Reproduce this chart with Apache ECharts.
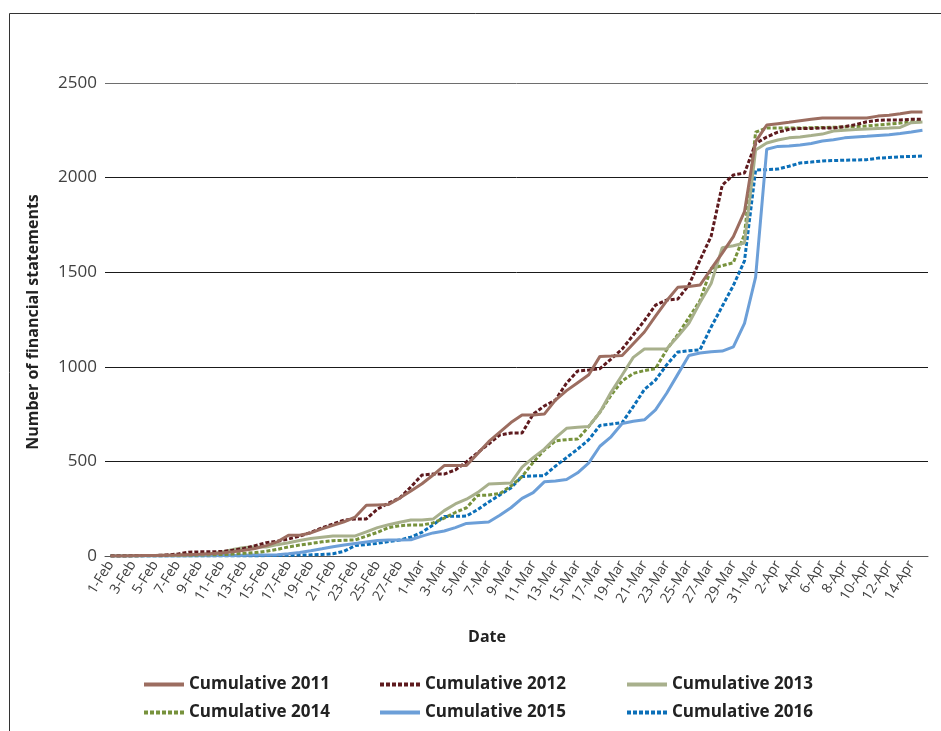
<!DOCTYPE html>
<html>
<head>
<meta charset="utf-8">
<script src="https://cdn.jsdelivr.net/npm/echarts@6/dist/echarts.min.js"></script>
<style>
html,body{margin:0;padding:0;background:#fff;}
#chart{width:941px;height:731px;}
</style>
</head>
<body>
<div id="chart"></div>
<script>
var categories = [
'1-Feb','2-Feb','3-Feb','4-Feb','5-Feb','6-Feb','7-Feb','8-Feb','9-Feb','10-Feb',
'11-Feb','12-Feb','13-Feb','14-Feb','15-Feb','16-Feb','17-Feb','18-Feb','19-Feb','20-Feb',
'21-Feb','22-Feb','23-Feb','24-Feb','25-Feb','26-Feb','27-Feb','28-Feb',
'1-Mar','2-Mar','3-Mar','4-Mar','5-Mar','6-Mar','7-Mar','8-Mar','9-Mar','10-Mar',
'11-Mar','12-Mar','13-Mar','14-Mar','15-Mar','16-Mar','17-Mar','18-Mar','19-Mar','20-Mar',
'21-Mar','22-Mar','23-Mar','24-Mar','25-Mar','26-Mar','27-Mar','28-Mar','29-Mar','30-Mar','31-Mar',
'1-Apr','2-Apr','3-Apr','4-Apr','5-Apr','6-Apr','7-Apr','8-Apr','9-Apr','10-Apr',
'11-Apr','12-Apr','13-Apr','14-Apr','15-Apr'
];
var cum2011 = [
0,0,1,2,3,4,5,7,9,12,
16,22,30,40,55,75,110,110,122,143,
162,181,206,268,270,272,306,343,382,428,
478,478,478,541,604,655,705,745,745,750,
824,874,916,958,1055,1057,1060,1122,1184,1268,
1349,1420,1425,1432,1517,1601,1688,1820,2190,2278,
2285,2292,2300,2308,2315,2315,2315,2315,2315,2325,
2330,2338,2347,2347
];
var cum2012 = [
0,0,1,2,3,5,10,20,22,22,
24,30,40,55,70,78,90,105,125,148,
169,190,196,196,248,280,306,365,428,433,
433,455,497,546,592,640,650,650,750,793,
824,914,978,983,990,1041,1094,1168,1244,1326,
1353,1358,1432,1564,1690,1960,2014,2024,2180,2215,
2240,2255,2260,2260,2262,2262,2270,2280,2295,2303,
2305,2305,2308,2308
];
var cum2013 = [
0,0,1,2,3,4,5,7,9,12,
20,35,45,48,48,60,70,82,92,99,
106,106,106,128,150,165,178,190,190,195,
240,275,300,335,380,383,386,470,520,565,
624,675,680,685,760,865,957,1050,1094,1094,
1094,1160,1230,1340,1440,1630,1640,1654,2146,2183,
2199,2210,2215,2222,2230,2246,2250,2254,2257,2260,
2262,2265,2290,2294
];
var cum2014 = [
0,0,0,1,1,2,3,4,5,6,
8,10,14,18,25,35,48,58,66,75,
81,83,85,105,125,150,160,164,164,175,
200,230,255,320,322,330,370,420,495,560,
608,615,618,685,760,850,925,965,980,990,
1090,1170,1260,1350,1520,1535,1550,1700,2240,2262,
2262,2262,2262,2264,2265,2266,2268,2270,2273,2278,
2283,2288,2294,2296
];
var cum2015 = [
0,0,0,0,0,0,0,0,1,1,
2,3,4,5,5,6,12,19,28,38,
49,58,66,74,82,85,85,86,105,122,
132,150,172,176,180,215,255,305,335,392,
397,404,440,492,580,630,700,712,720,772,
860,960,1060,1073,1080,1083,1105,1230,1474,2150,
2165,2167,2172,2180,2193,2200,2210,2215,2218,2222,
2226,2233,2241,2250
];
var cum2016 = [
0,0,0,0,0,0,0,0,0,0,
0,0,0,0,2,3,4,5,6,8,
12,25,55,60,67,76,84,100,125,164,
209,210,211,245,285,323,360,420,423,425,
475,520,565,615,690,697,705,790,880,930,
1010,1078,1085,1090,1210,1320,1430,1560,2040,2042,
2045,2060,2077,2082,2088,2090,2092,2093,2095,2103,
2106,2110,2112,2114
];
var seriesNames = ['Cumulative 2011','Cumulative 2012','Cumulative 2013','Cumulative 2014','Cumulative 2015','Cumulative 2016'];
var yTicks = [0, 500, 1000, 1500, 2000, 2500];

var FONT = '"Open Sans", "Noto Sans", sans-serif';
var chart = echarts.init(document.getElementById('chart'), null, {renderer: 'canvas'});

var seriesData = [cum2011, cum2012, cum2013, cum2014, cum2015, cum2016];
var colors = ['#9C6D60', '#5E1A1E', '#A8B08C', '#77923C', '#6C9FD8', '#0B6FB8'];
var dashed = [false, true, false, true, false, true];

var series = seriesData.map(function (d, k) {
  return {
    name: seriesNames[k],
    type: 'line',
    data: d,
    showSymbol: false,
    symbol: 'none',
    smooth: false,
    z: 10 - k,
    lineStyle: {color: colors[k], width: 3, type: dashed[k] ? [4, 2] : 'solid', cap: 'butt'},
    itemStyle: {color: colors[k]}
  };
});

var legendPos = [[142, 676], [378, 676], [625, 676], [142, 704], [378, 704], [625, 704]];
var legends = seriesNames.map(function (n, k) {
  return {
    data: [n],
    left: legendPos[k][0],
    top: legendPos[k][1],
    padding: 0,
    itemWidth: 40,
    itemHeight: 16,
    itemGap: 0,
    selectedMode: false,
    itemStyle: {opacity: 0},
    lineStyle: {width: 4},
    textStyle: {fontFamily: FONT, fontSize: 17, fontWeight: 'bold', color: '#222'}
  };
});

chart.setOption({
  animation: false,
  backgroundColor: '#fff',
  grid: {left: 105, right: 13, top: 83, bottom: 175, containLabel: false},
  legend: legends,
  xAxis: {
    type: 'category',
    data: categories,
    boundaryGap: true,
    axisLine: {show: true, lineStyle: {color: '#555', width: 1}},
    axisTick: {show: false},
    axisLabel: {
      interval: 1,
      rotate: 58,
      margin: 6,
      fontFamily: FONT,
      fontSize: 14,
      color: '#404040'
    },
    splitLine: {show: false}
  },
  yAxis: {
    type: 'value',
    min: yTicks[0],
    max: yTicks[yTicks.length - 1],
    interval: 500,
    axisLine: {show: false},
    axisTick: {show: false},
    axisLabel: {fontFamily: FONT, fontSize: 17, color: '#404040', margin: 8,
      formatter: function (v) { return String(v); }},
    splitLine: {show: true, lineStyle: {color: ['#1a1a1a', '#1a1a1a', '#1a1a1a', '#1a1a1a', '#1a1a1a', '#6e6e6e'], width: 1}}
  },
  graphic: [
    {type: 'rect', shape: {x: 9.5, y: 13.5, width: 1200, height: 1200}, style: {fill: null, stroke: '#333', lineWidth: 1}, silent: true},
    {type: 'text', x: 33, y: 322, rotation: Math.PI / 2,
      style: {text: 'Number of financial statements', fontFamily: FONT, fontSize: 16, fontWeight: 'bold', fill: '#222', textAlign: 'center', textVerticalAlign: 'middle'}},
    {type: 'text', x: 487, y: 637,
      style: {text: 'Date', fontFamily: FONT, fontSize: 16, fontWeight: 'bold', fill: '#222', textAlign: 'center', textVerticalAlign: 'middle'}}
  ],
  series: series
});
</script>
</body>
</html>
